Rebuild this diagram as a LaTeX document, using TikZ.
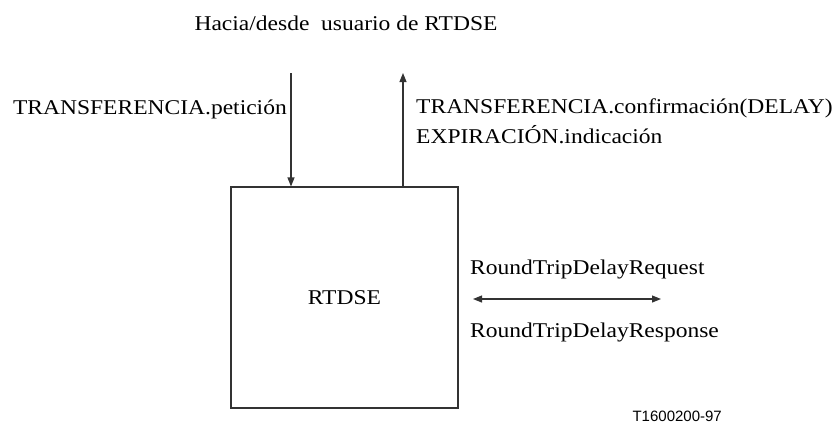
\documentclass[tikz,border=0pt]{standalone}
\usepackage{fontspec}
\setmainfont{Liberation Serif}[FakeStretch=1.12]
\newfontfamily\labelsans{Liberation Sans}
\usetikzlibrary{arrows.meta}
\begin{document}
\begin{tikzpicture}[x=1pt,y=1pt,
  txt/.style={inner sep=0pt,font=\fontsize{21}{30}\selectfont},
  conn/.style={line width=1.1pt,draw=black!80},
  tip/.style={-{Triangle[length=9pt,width=7pt]}},
  boxst/.style={draw=black!80,line width=1.1pt,minimum width=227pt,minimum height=221pt,inner sep=0pt,font=\fontsize{21}{30}\selectfont}]
\useasboundingbox (0,0) rectangle (838,-424);
\node[txt,anchor=base] (title) at (346,-30) {Hacia/desde\ \ usuario de RTDSE};
\node[boxst] (box) at (344.5,-297.5) {RTDSE};
\coordinate (dtop) at (291,-73);
\coordinate (utop) at (403,-73);
\draw[conn,tip] (dtop) -- (dtop |- box.north);
\draw[conn,tip] (utop |- box.north) -- (utop);
\node[txt,anchor=base east] (peticion) at (287,-114) {TRANSFERENCIA.petición};
\node[txt,anchor=base west] (confirm) at (416,-113) {TRANSFERENCIA.confirmación(DELAY)};
\node[txt,anchor=base west] (expir) at (416,-143) {EXPIRACIÓN.indicación};
\coordinate (la) at (473,-299);
\coordinate (lb) at (661,-299);
\draw[conn,{Triangle[length=9pt,width=7pt]}-{Triangle[length=9pt,width=7pt]}] (la) -- (lb);
\node[txt,anchor=base west] (req) at (470,-274) {RoundTripDelayRequest};
\node[txt,anchor=base west] (resp) at (470,-337) {RoundTripDelayResponse};
\node[inner sep=0pt,anchor=base east,font=\labelsans\fontsize{15}{18}\selectfont] (tag) at (722,-421) {T1600200-97};
\end{tikzpicture}
\end{document}
